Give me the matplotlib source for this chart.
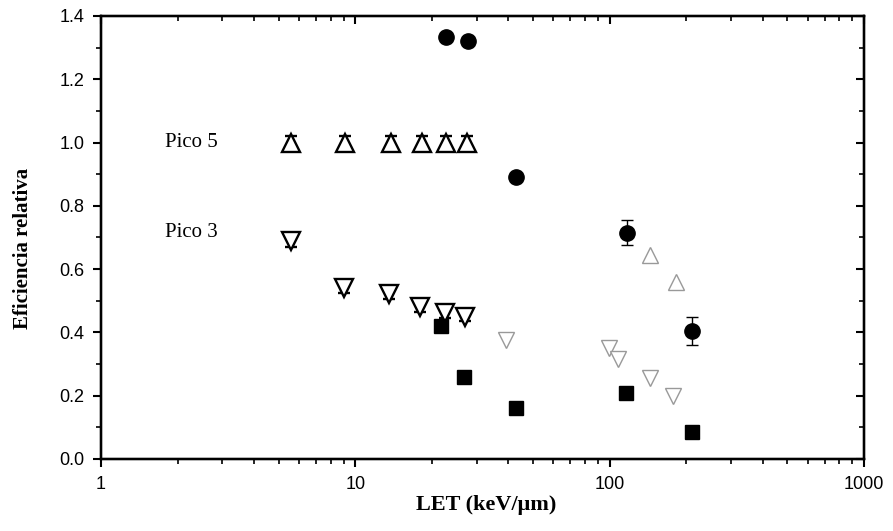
import numpy as np
import matplotlib.pyplot as plt
from matplotlib.ticker import FixedLocator, NullFormatter, MultipleLocator, LogLocator

# Pico 5 (triángulos abiertos)
let_pico5 = [5.6, 9.1, 13.8, 18.3, 22.7, 27.5]
ef_pico5 = [1.00, 1.00, 1.00, 1.00, 1.00, 1.00]
err_pico5 = [0.02, 0.02, 0.02, 0.02, 0.02, 0.02]

# Pico 3 (triángulos invertidos)
let_pico3 = [5.6, 9.0, 13.6, 18.0, 22.5, 27.1]
ef_pico3 = [0.69, 0.54, 0.52, 0.48, 0.46, 0.45]
err_pico3 = [0.02, 0.015, 0.015, 0.015, 0.015, 0.015]

# círculos llenos
let_circ = [22.7, 27.8, 43.0, 117.0, 210.0]
ef_circ = [1.335, 1.32, 0.89, 0.715, 0.405]
err_circ = [0.0, 0.0, 0.0, 0.04, 0.045]

# cuadrados llenos
let_sq = [21.7, 26.7, 43.0, 116.0, 210.0]
ef_sq = [0.42, 0.26, 0.16, 0.21, 0.085]
err_sq = [0.0, 0.0, 0.0, 0.0, 0.02]

# puntos tenues
let_down_faint = [39.0, 99.0, 108.0, 144.0, 178.0]
ef_down_faint = [0.375, 0.35, 0.315, 0.255, 0.20]
let_up_faint = [144.0, 182.0]
ef_up_faint = [0.645, 0.56]

fig = plt.figure(figsize=(8.93, 5.31), dpi=100)
ax = fig.add_axes([0.1131, 0.1356, 0.8544, 0.8343])

ax.errorbar(let_pico5, ef_pico5, yerr=err_pico5, fmt='^', ms=13, mfc='white',
            mec='black', mew=1.7, ecolor='black', elinewidth=1, capsize=4, zorder=3)
ax.errorbar(let_pico3, ef_pico3, yerr=err_pico3, fmt='v', ms=13, mfc='white',
            mec='black', mew=1.7, ecolor='black', elinewidth=1, capsize=4, zorder=3)
ax.errorbar(let_circ, ef_circ, yerr=err_circ, fmt='o', ms=11, mfc='black',
            mec='black', ecolor='black', elinewidth=1, capsize=4, zorder=3)
ax.errorbar(let_sq, ef_sq, yerr=err_sq, fmt='s', ms=10, mfc='black',
            mec='black', ecolor='black', elinewidth=1, capsize=4, zorder=3)
ax.plot(let_down_faint, ef_down_faint, 'v', ms=12, mfc='white', mec='#999999',
        mew=1.0, ls='none', zorder=2)
ax.plot(let_up_faint, ef_up_faint, '^', ms=12, mfc='white', mec='#999999',
        mew=1.0, ls='none', zorder=2)

ax.text(1.78, 1.0, 'Pico 5', family='Liberation Serif', fontsize=15, va='center', ha='left')
ax.text(1.78, 0.717, 'Pico 3', family='Liberation Serif', fontsize=15, va='center', ha='left')

ax.set_xscale('log')
ax.set_xlim(1, 1000)
ax.set_ylim(0, 1.4)

ax.xaxis.set_major_locator(FixedLocator([1, 10, 100, 1000]))
ax.set_xticklabels(['1', '10', '100', '1000'])
ax.xaxis.set_minor_locator(LogLocator(base=10, subs=np.arange(2, 10)))
ax.xaxis.set_minor_formatter(NullFormatter())
ax.yaxis.set_major_locator(MultipleLocator(0.2))
ax.yaxis.set_minor_locator(MultipleLocator(0.1))
ax.set_yticklabels([f'{v:.1f}' for v in ax.get_yticks()])

for lbl in ax.get_xticklabels() + ax.get_yticklabels():
    lbl.set_family('Liberation Sans')
    lbl.set_fontsize(13)

ax.tick_params(which='major', direction='out', length=6, width=1.5, pad=6)
ax.tick_params(which='minor', direction='out', length=3.5, width=1.2)
for s in ax.spines.values():
    s.set_linewidth(1.6)

# ejes espejo arriba y a la derecha con marcas hacia adentro
axt = ax.twiny()
axt.set_xscale('log')
axt.set_xlim(ax.get_xlim())
axt.xaxis.set_major_locator(FixedLocator([1, 10, 100, 1000]))
axt.xaxis.set_minor_locator(LogLocator(base=10, subs=np.arange(2, 10)))
axt.xaxis.set_major_formatter(NullFormatter())
axt.xaxis.set_minor_formatter(NullFormatter())
axt.tick_params(which='major', direction='in', length=6, width=1.5)
axt.tick_params(which='minor', direction='in', length=3.5, width=1.2)

axr = ax.twinx()
axr.set_ylim(ax.get_ylim())
axr.yaxis.set_major_locator(MultipleLocator(0.2))
axr.yaxis.set_minor_locator(MultipleLocator(0.1))
axr.yaxis.set_major_formatter(NullFormatter())
axr.tick_params(which='major', direction='in', length=6, width=1.5)
axr.tick_params(which='minor', direction='in', length=3.5, width=1.2)
for a in (axt, axr):
    for s in a.spines.values():
        s.set_linewidth(1.6)

ax.set_xlabel('LET (keV/μm)', family='Liberation Serif', fontweight='bold',
              fontsize=16, va='center')
ax.xaxis.set_label_coords(0.505, -0.104)
ax.set_ylabel('Eficiencia relativa', family='Liberation Serif', fontweight='bold',
              fontsize=15, va='center')
ax.yaxis.set_label_coords(-0.102, 0.476)

fig.savefig('out.png', dpi=100)
